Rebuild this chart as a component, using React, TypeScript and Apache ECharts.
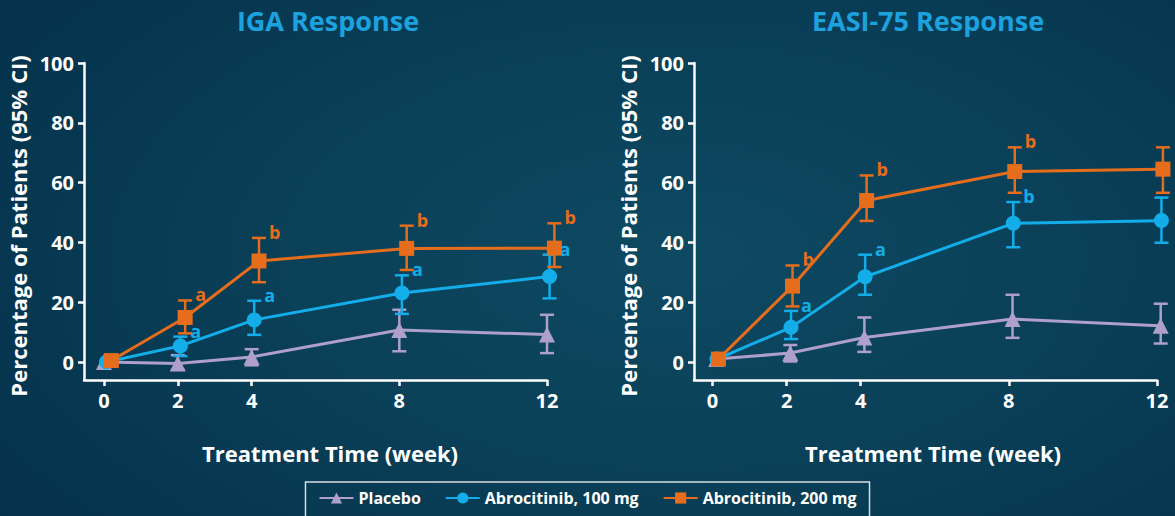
import React, { useEffect, useRef } from "react";
import * as echarts from "echarts";

// ---- data ----
const WEEKS = [0, 2, 4, 8, 12];
const X_TICKS = [0, 2, 4, 8, 12];
const Y_TICKS = [0, 20, 40, 60, 80, 100];
const SERIES_NAMES = ["Placebo", "Abrocitinib, 100 mg", "Abrocitinib, 200 mg"];

// IGA response
const IGA_PLACEBO = [0, -0.5, 1.7, 10.7, 9.2];
const IGA_PLACEBO_LO = [null, -2.6, -1.1, 3.6, 3.0];
const IGA_PLACEBO_HI = [null, 2.3, 4.3, 17.5, 15.8];
const IGA_100 = [0, 5.4, 14.1, 23.1, 28.6];
const IGA_100_LO = [null, 2.0, 9.1, 16.1, 21.3];
const IGA_100_HI = [null, 8.5, 20.5, 29.0, 35.9];
const IGA_200 = [0.5, 14.9, 33.8, 38.0, 38.1];
const IGA_200_LO = [null, 9.6, 26.7, 30.8, 31.8];
const IGA_200_HI = [null, 20.6, 41.5, 45.6, 46.4];
const IGA_100_SIG = ["", "a", "a", "a", "a"];
const IGA_200_SIG = ["", "a", "b", "b", "b"];

// EASI-75 response
const EASI_PLACEBO = [1, 3.0, 8.2, 14.4, 12.1];
const EASI_PLACEBO_LO = [null, 0.2, 3.4, 8.1, 6.2];
const EASI_PLACEBO_HI = [null, 5.7, 14.9, 22.5, 19.5];
const EASI_100 = [1, 11.6, 28.5, 46.4, 47.3];
const EASI_100_LO = [null, 7.7, 22.5, 38.4, 39.9];
const EASI_100_HI = [null, 17.1, 35.9, 53.5, 55.0];
const EASI_200 = [1, 25.4, 54.0, 63.7, 64.5];
const EASI_200_LO = [null, 18.6, 47.2, 56.6, 56.6];
const EASI_200_HI = [null, 32.3, 62.4, 71.8, 71.8];
const EASI_100_SIG = ["", "a", "a", "b", ""];
const EASI_200_SIG = ["", "b", "b", "b", ""];
const NO_SIG = ["", "", "", "", ""];

// ---- styles ----
const FONT = "'Open Sans', 'DejaVu Sans', sans-serif";
const COLORS = ["#ae9fcb", "#13aeea", "#e56d1c"];
const SYMBOLS = ["triangle", "circle", "rect"];
const SYMBOL_SIZES = [16, 15, 15];
const IGA_DODGE = [0, 0.07, 0.2];
const EASI_DODGE = [0.1, 0.12, 0.16];

function lineSeries(idx: number, grid: number, values: number[], dodge: number) {
  return {
    type: "line",
    name: SERIES_NAMES[idx],
    xAxisIndex: grid,
    yAxisIndex: grid,
    data: WEEKS.map((w, i) => [w + dodge, values[i]]),
    symbol: SYMBOLS[idx],
    symbolSize: SYMBOL_SIZES[idx],
    clip: false,
    z: 3,
    itemStyle: { color: COLORS[idx] },
    lineStyle: { color: COLORS[idx], width: 3 },
  };
}

function errorSeries(
  idx: number,
  grid: number,
  lo: (number | null)[],
  hi: (number | null)[],
  sig: string[],
  dodge: number
) {
  const data: number[][] = [];
  const letters: string[] = [];
  WEEKS.forEach((w, i) => {
    if (lo[i] !== null && hi[i] !== null) {
      data.push([w + dodge, lo[i] as number, hi[i] as number]);
      letters.push(sig[i]);
    }
  });
  const color = COLORS[idx];
  return {
    type: "custom",
    name: SERIES_NAMES[idx] + " CI",
    xAxisIndex: grid,
    yAxisIndex: grid,
    clip: false,
    z: 2,
    data,
    encode: { x: 0, y: [1, 2] },
    renderItem: (params: any, api: any) => {
      const x = api.value(0);
      const pLo = api.coord([x, api.value(1)]);
      const pHi = api.coord([x, api.value(2)]);
      const cw = 7;
      const st = { stroke: color, lineWidth: 2.5 };
      const children: any[] = [
        { type: "line", shape: { x1: pLo[0], y1: pLo[1], x2: pHi[0], y2: pHi[1] }, style: st },
        { type: "line", shape: { x1: pLo[0] - cw, y1: pLo[1], x2: pLo[0] + cw, y2: pLo[1] }, style: st },
        { type: "line", shape: { x1: pHi[0] - cw, y1: pHi[1], x2: pHi[0] + cw, y2: pHi[1] }, style: st },
      ];
      const letter = letters[params.dataIndex];
      if (letter) {
        children.push({
          type: "text",
          x: pHi[0] + 10,
          y: pHi[1] - 6,
          style: {
            text: letter,
            fill: color,
            fontSize: 18,
            fontWeight: "bold",
            fontFamily: FONT,
            align: "left",
            verticalAlign: "middle",
          },
        });
      }
      return { type: "group", children };
    },
  };
}

function xAxis(grid: number, min: number) {
  return {
    type: "value",
    gridIndex: grid,
    min,
    max: 12,
    splitLine: { show: false },
    axisLine: { show: true, onZero: false, lineStyle: { color: "#ffffff", width: 2.5 } },
    axisTick: { show: true, length: 6, customValues: X_TICKS, lineStyle: { color: "#ffffff", width: 2.5 } },
    axisLabel: {
      customValues: X_TICKS,
      color: "#ffffff",
      fontSize: 20,
      fontWeight: "bold",
      fontFamily: FONT,
      margin: 10,
    },
  };
}

function yAxis(grid: number) {
  return {
    type: "value",
    gridIndex: grid,
    min: -6,
    max: 100,
    splitLine: { show: false },
    axisLine: { show: true, onZero: false, lineStyle: { color: "#ffffff", width: 2.5 } },
    axisTick: { show: true, length: 6, customValues: Y_TICKS, lineStyle: { color: "#ffffff", width: 2.5 } },
    axisLabel: {
      customValues: Y_TICKS,
      color: "#ffffff",
      fontSize: 20,
      fontWeight: "bold",
      fontFamily: FONT,
      margin: 10,
    },
  };
}

function textEl(text: string, x: number, y: number, size: number, color: string, rotate = 0) {
  return {
    type: "text",
    x,
    y,
    rotation: rotate,
    style: {
      text,
      fill: color,
      fontSize: size,
      fontWeight: "bold",
      fontFamily: FONT,
      align: "center",
      verticalAlign: "middle",
    },
  };
}

export default function App() {
  const ref = useRef<HTMLDivElement>(null);
  useEffect(() => {
    if (!ref.current) return;
    const chart = echarts.init(ref.current, null, { renderer: "svg" });
    const option = {
      animation: false,
      backgroundColor: "transparent",
      grid: [
        { left: 84, right: 628, top: 63, bottom: 136 },
        { left: 694, right: 18, top: 63, bottom: 136 },
      ],
      xAxis: [xAxis(0, -0.54), xAxis(1, -0.5)],
      yAxis: [yAxis(0), yAxis(1)],
      legend: {
        data: SERIES_NAMES,
        left: "center",
        top: 482,
        itemWidth: 34,
        itemHeight: 14,
        itemGap: 24,
        padding: [8, 13, 16, 13],
        borderColor: "#d6dde2",
        borderWidth: 1.5,
        textStyle: { color: "#ffffff", fontSize: 16, fontWeight: "bold", fontFamily: FONT },
      },
      graphic: [
        textEl("IGA Response", 328, 20, 27, "#1ba2df"),
        textEl("EASI-75 Response", 928, 20, 27, "#1ba2df"),
        textEl("Percentage of Patients (95% CI)", 18, 226, 22, "#ffffff", Math.PI / 2),
        textEl("Percentage of Patients (95% CI)", 628, 226, 22, "#ffffff", Math.PI / 2),
        textEl("Treatment Time (week)", 330, 453, 22, "#ffffff"),
        textEl("Treatment Time (week)", 933, 453, 22, "#ffffff"),
      ],
      series: [
        errorSeries(0, 0, IGA_PLACEBO_LO, IGA_PLACEBO_HI, NO_SIG, IGA_DODGE[0]),
        errorSeries(1, 0, IGA_100_LO, IGA_100_HI, IGA_100_SIG, IGA_DODGE[1]),
        errorSeries(2, 0, IGA_200_LO, IGA_200_HI, IGA_200_SIG, IGA_DODGE[2]),
        lineSeries(0, 0, IGA_PLACEBO, IGA_DODGE[0]),
        lineSeries(1, 0, IGA_100, IGA_DODGE[1]),
        lineSeries(2, 0, IGA_200, IGA_DODGE[2]),
        errorSeries(0, 1, EASI_PLACEBO_LO, EASI_PLACEBO_HI, NO_SIG, EASI_DODGE[0]),
        errorSeries(1, 1, EASI_100_LO, EASI_100_HI, EASI_100_SIG, EASI_DODGE[1]),
        errorSeries(2, 1, EASI_200_LO, EASI_200_HI, EASI_200_SIG, EASI_DODGE[2]),
        lineSeries(0, 1, EASI_PLACEBO, EASI_DODGE[0]),
        lineSeries(1, 1, EASI_100, EASI_DODGE[1]),
        lineSeries(2, 1, EASI_200, EASI_DODGE[2]),
      ],
    };
    chart.setOption(option as any);
    return () => chart.dispose();
  }, []);
  return (
    <div
      style={{
        position: "absolute",
        left: 0,
        top: 0,
        width: 1175,
        height: 516,
        overflow: "hidden",
        background:
          "radial-gradient(ellipse 75% 90% at 58% 50%, #0e4962 0%, #0a4058 45%, #04304a 100%)",
      }}
    >
      <div ref={ref} style={{ width: 1175, height: 516 }} />
    </div>
  );
}
